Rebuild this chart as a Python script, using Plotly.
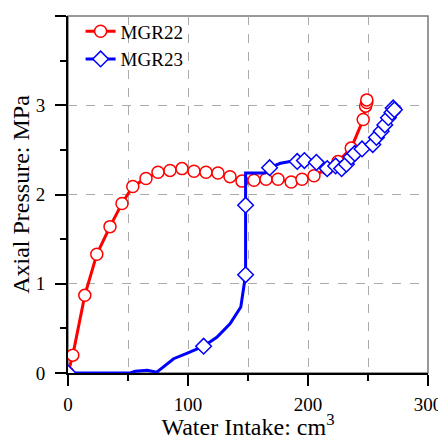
import plotly.graph_objects as go

# MGR22 - markers on every point
mgr22_x = [0, 4, 14, 24, 35, 45, 54, 65, 75, 85, 95, 105, 115, 125, 135, 145, 155, 165,
           175, 186, 195, 205, 216, 225, 236, 246, 248, 249, 249]
mgr22_y = [0, 0.2, 0.87, 1.33, 1.64, 1.9, 2.09, 2.18, 2.25, 2.27, 2.29, 2.26, 2.25, 2.24,
           2.2, 2.15, 2.16, 2.17, 2.17, 2.14, 2.17, 2.21, 2.29, 2.37, 2.52, 2.84, 2.99, 3.03, 3.06]

# MGR23 - continuous record
mgr23_line_x = [0, 52, 56, 66, 74, 80, 88, 99, 113, 124, 135, 144, 148, 148, 148, 164, 168,
                177, 185, 191, 197, 207, 216, 223, 228, 232, 236, 239, 245, 250, 254, 257,
                261, 264, 267, 270, 271]
mgr23_line_y = [0, 0, 0.02, 0.03, 0.01, 0.07, 0.16, 0.22, 0.30, 0.40, 0.55, 0.74, 1.10, 1.87,
                2.24, 2.24, 2.30, 2.35, 2.37, 2.37, 2.38, 2.36, 2.30, 2.32, 2.29, 2.34, 2.42,
                2.46, 2.51, 2.56, 2.58, 2.64, 2.71, 2.78, 2.86, 2.92, 2.97]

# MGR23 - marked points
mgr23_mark_x = [0, 113, 148, 148, 168, 191, 197, 207, 216, 223, 228, 232, 236, 239, 245,
                254, 257, 261, 264, 267, 270, 271, 272]
mgr23_mark_y = [0, 0.30, 1.10, 1.88, 2.30, 2.37, 2.38, 2.36, 2.29, 2.32, 2.29, 2.34, 2.42,
                2.46, 2.51, 2.56, 2.64, 2.71, 2.78, 2.86, 2.92, 2.97, 2.95]

RED = '#ff0000'
BLUE = '#0000ff'
FONT = 'Liberation Serif, Times New Roman, DejaVu Serif, serif'

fig = go.Figure()

# frame (grey top / right)
fig.add_shape(type='rect', xref='paper', yref='paper', x0=0, y0=0, x1=1, y1=1,
              line=dict(color='#777777', width=1.5), layer='below')

fig.add_trace(go.Scatter(x=mgr22_x, y=mgr22_y, mode='lines+markers', name='MGR22',
                         line=dict(color=RED, width=3),
                         marker=dict(symbol='circle', size=12, color='white',
                                     line=dict(color=RED, width=1.5))))

fig.add_trace(go.Scatter(x=mgr23_line_x, y=mgr23_line_y, mode='lines', showlegend=False,
                         line=dict(color=BLUE, width=3)))
fig.add_trace(go.Scatter(x=mgr23_mark_x, y=mgr23_mark_y, mode='markers', showlegend=False,
                         marker=dict(symbol='diamond', size=12, color='white',
                                     line=dict(color=BLUE, width=1.5))))
# legend entry for MGR23
fig.add_trace(go.Scatter(x=[None], y=[None], mode='lines+markers', name='MGR23',
                         line=dict(color=BLUE, width=3),
                         marker=dict(symbol='diamond', size=12, color='white',
                                     line=dict(color=BLUE, width=1.5))))

# page body adds 8px offset, so the figure is sized to fit inside the window
fig.update_layout(
    width=438, height=432,
    margin=dict(l=60, r=18, t=4, b=67),
    plot_bgcolor='white', paper_bgcolor='white',
    font=dict(family=FONT, color='black', size=19),
    showlegend=True,
    legend=dict(x=0.035, y=1.01, xanchor='left', yanchor='top',
                bgcolor='rgba(0,0,0,0)', font=dict(size=19, family=FONT),
                tracegroupgap=0, itemwidth=30),
    xaxis=dict(range=[0, 300], dtick=100, tick0=0, automargin=False,
               title=dict(text='Water Intake: cm<sup>3</sup>', font=dict(size=24, family=FONT),
                          standoff=2),
               tickfont=dict(family=FONT, size=19), ticklabelstandoff=2,
               showline=True, linecolor='black', linewidth=2,
               ticks='outside', ticklen=11, tickwidth=2, tickcolor='black',
               showgrid=True, gridcolor='#aaaaaa', griddash='dash', gridwidth=1,
               zeroline=False,
               minor=dict(dtick=50, ticks='outside', ticklen=6, tickwidth=2, tickcolor='black',
                          showgrid=True, gridcolor='#aaaaaa', griddash='dash', gridwidth=1)),
    yaxis=dict(range=[0, 4], dtick=1, tick0=0, automargin=False,
               title=dict(text='Axial Pressure: MPa', font=dict(size=24, family=FONT),
                          standoff=4),
               tickfont=dict(family=FONT, size=19), ticklabelstandoff=6,
               showline=True, linecolor='black', linewidth=2,
               ticks='outside', ticklen=11, tickwidth=2, tickcolor='black',
               showgrid=True, gridcolor='#aaaaaa', griddash='dash', gridwidth=1,
               zeroline=False,
               minor=dict(dtick=0.5, ticks='outside', ticklen=6, tickwidth=2, tickcolor='black',
                          showgrid=False)),
)

fig.write_html("out.html")
